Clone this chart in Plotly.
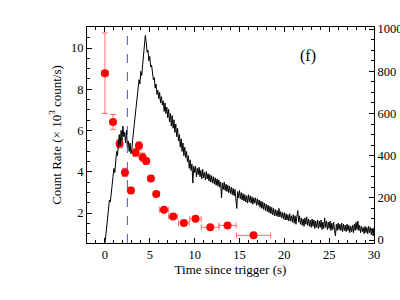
import plotly.graph_objects as go

# ---- data ----
# light curve (right axis, counts per bin), 0.1 s bins from t = 0 s
lc_t0 = 0.0
lc_dt = 0.1
lc_counts = [
    -20, 20, 70, 110, 150, 190, 180, 240, 260, 300,
    340, 320, 390, 420, 400, 460, 500, 450, 520, 470,
    540, 490, 510, 460, 520, 440, 470, 420, 460, 410,
    430, 480, 520, 590, 620, 670, 690, 720, 760, 740,
    800, 780, 830, 860, 920, 970, 940, 890, 900, 850,
    870, 820, 830, 780, 760, 770, 720, 740, 690, 710,
    670, 700, 650, 680, 640, 660, 610, 650, 600, 630,
    580, 620, 560, 600, 540, 590, 530, 570, 510, 550,
    490, 530, 470, 500, 440, 480, 420, 460, 400, 440,
    390, 420, 370, 400, 340, 380, 330, 360, 270, 350,
    320, 350, 300, 340, 310, 345, 300, 330, 290, 335,
    295, 320, 285, 325, 290, 315, 280, 310, 275, 305,
    270, 300, 265, 295, 260, 290, 255, 285, 250, 275,
    200, 270, 240, 275, 235, 265, 230, 260, 225, 255,
    220, 250, 215, 245, 210, 240, 200, 150, 230, 200,
    235, 195, 225, 190, 220, 185, 215, 180, 210, 175,
    215, 180, 210, 175, 205, 170, 200, 175, 200, 165,
    195, 165, 190, 155, 185, 150, 180, 145, 175, 140,
    170, 135, 165, 130, 160, 125, 155, 120, 150, 115,
    145, 115, 140, 110, 150, 110, 135, 105, 130, 100,
    130, 95, 125, 95, 120, 90, 125, 90, 115, 85,
    120, 80, 115, 75, 110, 140, 85, 115, 75, 105,
    70, 100, 65, 105, 75, 110, 70, 100, 65, 95,
    60, 100, 65, 95, 55, 90, 60, 95, 55, 90,
    60, 95, 50, 85, 55, 105, 60, 90, 50, 85,
    55, 90, 45, 80, 50, 85, 45, 20, 75, 45,
    80, 50, 75, 45, 80, 40, 75, 45, 70, 40,
    75, 45, 70, 35, 65, 40, 70, 35, 75, 45,
    85, 50, 90, 45, 70, 35, 65, 40, 60, 30,
    65, 35, 60, 30, 65, 35, 60, 25, 55, 20,
    60,
]
lc_time = [lc_t0 + lc_dt * i for i in range(len(lc_counts))]

# red points (left axis, x 10^3 count/s)
pt_time = [0.0, 0.9, 1.63, 2.23, 2.9, 3.42, 3.79, 4.2, 4.6, 5.13, 5.72,
           6.58, 7.6, 8.8, 10.1, 11.74, 13.67, 16.57]
pt_rate = [8.78, 6.42, 5.36, 3.97, 3.1, 4.94, 5.26, 4.71, 4.52, 3.68, 2.92,
           2.16, 1.84, 1.52, 1.72, 1.31, 1.40, 0.92]
pt_rate_err = [1.95, 0.36, 0.2, 0.2, 0.15, 0.2, 0.2, 0.2, 0.15, 0.1, 0.08,
               0.07, 0.07, 0.07, 0.07, 0.06, 0.06, 0.05]
pt_time_err = [0.35, 0.3, 0.3, 0.2, 0.2, 0.2, 0.2, 0.2, 0.2, 0.25, 0.3,
               0.5, 0.5, 0.6, 0.63, 1.0, 0.97, 1.9]

trigger_line_t = 2.5
panel_label = "(f)"

x_ticks = [0, 5, 10, 15, 20, 25, 30]
left_ticks = [2, 4, 6, 8, 10]
right_ticks = [0, 200, 400, 600, 800, 1000]

FONT = "Liberation Serif"

fig = go.Figure()

fig.add_trace(go.Scatter(
    x=lc_time, y=lc_counts, mode="lines",
    line=dict(color="black", width=1),
    yaxis="y2", showlegend=False, hoverinfo="skip",
))

fig.add_trace(go.Scatter(
    x=pt_time, y=pt_rate, mode="markers",
    marker=dict(color="#ff0000", size=8, line=dict(width=0)),
    error_y=dict(type="data", array=pt_rate_err, color="#ff7070",
                 thickness=1, width=3),
    error_x=dict(type="data", array=pt_time_err, color="#ff7070",
                 thickness=1, width=3),
    yaxis="y", showlegend=False,
))

fig.add_shape(type="line", xref="x", yref="paper",
              x0=trigger_line_t, x1=trigger_line_t, y0=0, y1=1,
              line=dict(color="#4455dd", width=1, dash="dash"))

fig.add_annotation(x=22.6, y=9.6, xref="x", yref="y", text=panel_label,
                   showarrow=False, font=dict(family=FONT, size=16, color="black"))

axis_common = dict(
    showgrid=False, zeroline=False, showline=True, linecolor="black",
    linewidth=1, ticks="inside", ticklen=5, tickcolor="black",
    tickfont=dict(family=FONT, size=12.5, color="black"),
    automargin=False,
)

fig.update_layout(
    width=400, height=300,
    margin=dict(l=87, r=26, t=27, b=57),
    paper_bgcolor="white", plot_bgcolor="white",
    font=dict(family=FONT, color="black"),
    xaxis=dict(
        **axis_common, range=[-2, 30], tickvals=x_ticks, mirror="ticks",
        minor=dict(ticks="inside", ticklen=3, dtick=1, tickcolor="black"),
        title=dict(text="Time since trigger (s)",
                   font=dict(family=FONT, size=13), standoff=2),
    ),
    yaxis=dict(
        **axis_common, range=[0.55, 11.02], tickvals=left_ticks,
        minor=dict(ticks="inside", ticklen=3, dtick=0.5, tickcolor="black"),
        title=dict(text="Count Rate (× 10<sup>3</sup> count/s)",
                   font=dict(family=FONT, size=13), standoff=6),
    ),
    yaxis2=dict(
        **axis_common, range=[-14, 1010], tickvals=right_ticks,
        overlaying="y", side="right",
        minor=dict(ticks="inside", ticklen=3, dtick=50, tickcolor="black"),
    ),
)

fig.write_html("out.html", config={"displayModeBar": False},
               post_script="document.body.style.margin='0';document.body.style.overflow='hidden';")
